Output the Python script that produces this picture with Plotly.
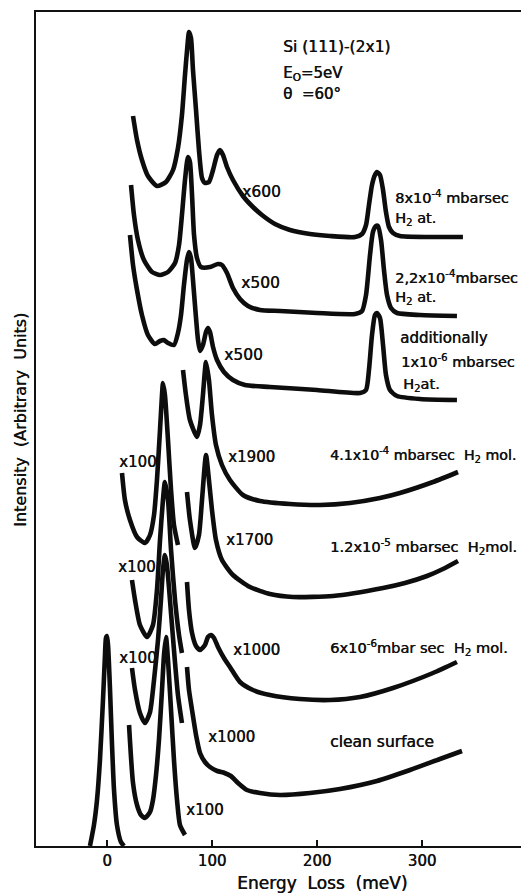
import plotly.graph_objects as go

# ---------------- data (energy loss in meV, intensity in arbitrary units) -------------
# 8x10^-4 mbarsec H2 at.  (x600)
E_a1 = [24.8, 28.6, 33.3, 39.0, 47.6, 56.2, 62.9, 67.6, 71.4, 74.3, 77.1, 78.1, 80.0, 81.9, 84.8,
        87.6, 90.5, 93.3, 97.1, 101.0, 104.8, 107.6, 110.5, 114.3, 120.0, 129.5, 139.0, 147.6,
        160.0, 174.3, 193.3, 212.4, 236.2, 242.9, 246.7, 249.5, 252.4, 255.2, 257.1, 260.0,
        262.9, 265.7, 268.6, 272.4, 279.0, 307.6, 339.0]
I_a1 = [730, 706, 686, 670, 660, 664, 676, 698, 731, 771, 806, 814, 808, 776, 736,
        696, 668, 663, 664, 676, 691, 696, 691, 679, 666, 650, 639, 631,
        622, 616, 612, 610, 609, 612, 621, 641, 661, 671, 674, 671,
        656, 634, 619, 613, 610, 609, 609]

# 2.2x10^-4 mbarsec H2 at.  (x500)
E_a2 = [22.9, 25.7, 29.5, 35.2, 42.9, 50.5, 58.1, 64.8, 68.6, 71.4, 74.3, 77.1, 79.0, 81.0, 82.9,
        85.7, 89.5, 98.1, 105.7, 109.5, 114.3, 120.0, 126.7, 134.3, 145.7, 164.8, 200.0, 236.2,
        242.9, 246.7, 250.5, 253.3, 256.2, 258.1, 261.0, 263.8, 266.7, 270.5, 276.2, 298.1, 333.3]
I_a2 = [661, 631, 606, 586, 574, 571, 574, 583, 601, 631, 666, 689, 684, 651, 611,
        588, 579, 579, 582, 581, 573, 558, 547, 540, 536, 535, 533, 532,
        535, 551, 591, 614, 620, 620, 606, 576, 551, 538, 533, 531, 530]

# additionally 1x10^-6 mbarsec H2 at.  (x500)
E_a3 = [21.9, 24.8, 28.6, 33.3, 39.0, 45.7, 50.5, 54.3, 58.1, 63.8, 67.6, 70.5, 73.3, 76.2, 78.1,
        80.0, 81.9, 83.8, 86.7, 88.6, 91.4, 94.3, 96.2, 98.1, 101.0, 104.8, 111.4, 120.0, 131.4,
        155.2, 200.0, 241.0, 246.7, 249.5, 252.4, 255.2, 257.1, 260.0, 262.9, 265.7, 269.5,
        276.2, 298.1, 333.3]
I_a3 = [611, 581, 556, 531, 511, 502, 505, 506, 503, 501, 513, 531, 561, 586, 594,
        588, 566, 541, 506, 495, 501, 514, 518, 514, 499, 486, 474, 466, 461,
        459, 456, 453, 456, 476, 511, 531, 533, 528, 501, 471, 456,
        450, 447, 446]

# 4.1x10^-4 mbarsec H2 mol.  (x100 and x1900)
E_m1a = [14.3, 17.1, 21.9, 28.6, 36.2, 41.0, 44.8, 47.6, 50.5, 52.4, 53.3, 55.2, 58.1, 61.0, 63.8, 67.6]
I_m1a = [373, 346, 326, 309, 303, 311, 331, 366, 416, 451, 463, 451, 406, 356, 321, 301]
E_m1b = [72.4, 75.2, 79.0, 85.7, 88.6, 91.4, 94.3, 97.1, 100.0, 103.8, 109.5, 117.1, 129.5, 145.7,
         174.3, 202.9, 231.4, 260.0, 279.0, 310.5, 334.3]
I_m1b = [476, 451, 426, 409, 421, 451, 484, 466, 431, 401, 381, 366, 351, 345,
         342, 341, 343, 348, 353, 364, 374]

# 1.2x10^-5 mbarsec H2 mol.  (x100 and x1700)
E_m2a = [23.8, 26.7, 31.4, 38.1, 43.8, 47.6, 50.5, 53.3, 55.2, 58.1, 61.0, 64.8, 68.6, 71.4]
I_m2a = [266, 246, 221, 209, 221, 256, 306, 346, 364, 346, 296, 246, 211, 193]
E_m2b = [76.2, 79.0, 83.8, 87.6, 90.5, 94.3, 97.1, 100.0, 103.8, 109.5, 120.0, 136.2, 155.2,
         177.1, 215.2, 262.9, 283.8, 304.8, 320.0, 334.3]
I_m2b = [354, 326, 298, 311, 346, 391, 366, 336, 306, 286, 271, 259, 252,
         249, 250, 258, 263, 270, 277, 285]

# 6x10^-6 mbarsec H2 mol.  (x100 and x1000)
E_m3a = [23.8, 26.7, 31.4, 36.2, 41.0, 44.8, 48.6, 51.4, 53.3, 55.2, 57.1, 60.0, 63.8, 67.6, 71.4]
I_m3a = [178, 156, 133, 123, 134, 166, 206, 246, 276, 291, 281, 246, 196, 151, 123]
E_m3b = [76.2, 78.1, 81.0, 84.8, 88.6, 93.3, 96.2, 99.0, 101.9, 105.7, 111.4, 117.1, 126.7, 139.0,
         155.2, 183.8, 212.4, 241.0, 272.4, 310.5, 333.3]
I_m3b = [264, 236, 213, 200, 196, 201, 209, 211, 208, 199, 188, 179, 164, 156,
         151, 147, 146, 149, 158, 173, 184]

# clean surface  (elastic x1, x100 and x1000)
E_c0 = [-16.2, -12.4, -9.5, -6.7, -3.8, -1.9, -1.0, 0.0, 1.0, 2.9, 4.8, 6.7, 9.5, 13.3, 16.2]
I_c0 = [0, 21, 46, 86, 146, 191, 208, 210, 201, 156, 101, 56, 21, 4, 0]
E_ca = [21.0, 24.8, 28.6, 32.4, 36.2, 41.0, 43.8, 46.7, 49.5, 52.4, 54.3, 56.2, 58.1, 61.0, 63.8,
        66.7, 69.5, 74.3]
I_ca = [121, 63, 41, 31, 28, 34, 46, 71, 106, 156, 191, 209, 186, 136, 86,
        46, 21, 11]
E_cb = [76.2, 78.1, 81.0, 84.8, 88.6, 93.3, 98.1, 105.0, 112.0, 118.0, 124.8, 133.3, 145.7, 164.8,
        193.3, 221.9, 257.1, 288.6, 317.1, 338.1]
I_cb = [179, 156, 136, 111, 93, 84, 79, 75, 73, 70, 63, 56, 53, 51,
        53, 57, 65, 76, 87, 95]

x_ticks = [0, 100, 200, 300]
x_tick_labels = ["0", "100", "200", "300"]

# ---------------- figure -----------------
W, H = 521, 894
L, R, T, B = 36, 0, 12, 48
X0, X1 = -67.6, 394.3
Y0, Y1 = 0, 834

fig = go.Figure()
segments = [(E_a1, I_a1), (E_a2, I_a2), (E_a3, I_a3),
            (E_m1a, I_m1a), (E_m1b, I_m1b),
            (E_m2a, I_m2a), (E_m2b, I_m2b),
            (E_m3a, I_m3a), (E_m3b, I_m3b),
            (E_c0, I_c0), (E_ca, I_ca), (E_cb, I_cb)]
for ex, iy in segments:
    fig.add_trace(go.Scatter(x=ex, y=iy, mode="lines",
                             line=dict(color="#0d0d0d", width=4.6, shape="spline", smoothing=0.6),
                             hoverinfo="skip", showlegend=False))

FONT = "DejaVu Sans"
INK = "#111111"
SHADOW = "0.45px 0 0 #111111"


def px2x(px):
    return X0 + (px - L) / (W - L - R) * (X1 - X0)


def py2y(py):
    return Y0 + (H - B - py) / (H - T - B) * (Y1 - Y0)


labels = [
    ("Si (111)-(2x1)", 281, 47, 15.5),
    ("E<sub>O</sub>=5eV", 281, 73, 15),
    ("\u03b8\u00a0 =60\u00b0", 281, 94, 15),
    ("x600", 240, 192, 15.5),
    ("x500", 239, 283, 15.5),
    ("x500", 222, 355, 15.5),
    ("x1900", 226, 457, 15),
    ("x1700", 224, 540, 15),
    ("x1000", 231, 650, 15),
    ("x1000", 206, 737, 15),
    ("x100", 184, 810, 15),
    ("x100", 117, 462, 15),
    ("x100", 116, 567, 15),
    ("x100", 117, 658, 15),
    ("8x10<sup>-4</sup> mbarsec", 393, 197, 14.5),
    ("H<sub>2</sub> at.", 393, 219, 14.5),
    ("2,2x10<sup>-4</sup>mbarsec", 393, 277, 14.5),
    ("H<sub>2</sub> at.", 393, 298, 14.5),
    ("additionally", 398, 338, 15),
    ("1x10<sup>-6</sup> mbarsec", 399, 361, 14.5),
    ("H<sub>2</sub>at.", 401, 385, 14.5),
    ("4.1x10<sup>-4</sup> mbarsec\u00a0 H<sub>2</sub> mol.", 328, 455, 14.2),
    ("1.2x10<sup>-5</sup> mbarsec\u00a0 H<sub>2</sub>mol.", 328, 547, 14.6),
    ("6x10<sup>-6</sup>mbar sec\u00a0 H<sub>2</sub> mol.", 328, 648, 14.6),
    ("clean surface", 328, 742, 15.5),
]
for txt, px, py, fs in labels:
    fig.add_annotation(x=px2x(px), y=py2y(py), xref="x", yref="y", text=txt,
                       showarrow=False, xanchor="left", yanchor="middle",
                       font=dict(family=FONT, size=fs, color=INK, shadow=SHADOW))

fig.add_annotation(x=(21 - L) / (W - L - R), y=(H - B - 420) / (H - T - B), xref="paper", yref="paper",
                   text="Intensity\u00a0 (Arbitrary\u00a0 Units)", showarrow=False, textangle=-90,
                   xanchor="center", yanchor="middle",
                   font=dict(family=FONT, size=16, color=INK, shadow=SHADOW))
fig.add_annotation(x=(322 - L) / (W - L - R), y=(H - B - 883) / (H - T - B), xref="paper", yref="paper",
                   text="Energy\u00a0 Loss\u00a0 (meV)", showarrow=False, xanchor="center", yanchor="middle",
                   font=dict(family=FONT, size=17, color=INK, shadow=SHADOW))

fig.update_layout(
    width=W, height=H,
    margin=dict(l=L, r=R, t=T, b=B),
    paper_bgcolor="white", plot_bgcolor="white",
    xaxis=dict(range=[X0, X1], tickvals=x_ticks, ticktext=x_tick_labels,
               ticks="inside", ticklen=6, tickwidth=1.5, tickcolor=INK,
               showgrid=False, zeroline=False, showline=True, linecolor=INK, linewidth=2,
               mirror=True, tickfont=dict(family=FONT, size=15, color=INK, shadow=SHADOW)),
    yaxis=dict(range=[Y0, Y1], showticklabels=False, ticks="", showgrid=False, zeroline=False,
               showline=True, linecolor=INK, linewidth=2),
)
fig.write_html("out.html")
